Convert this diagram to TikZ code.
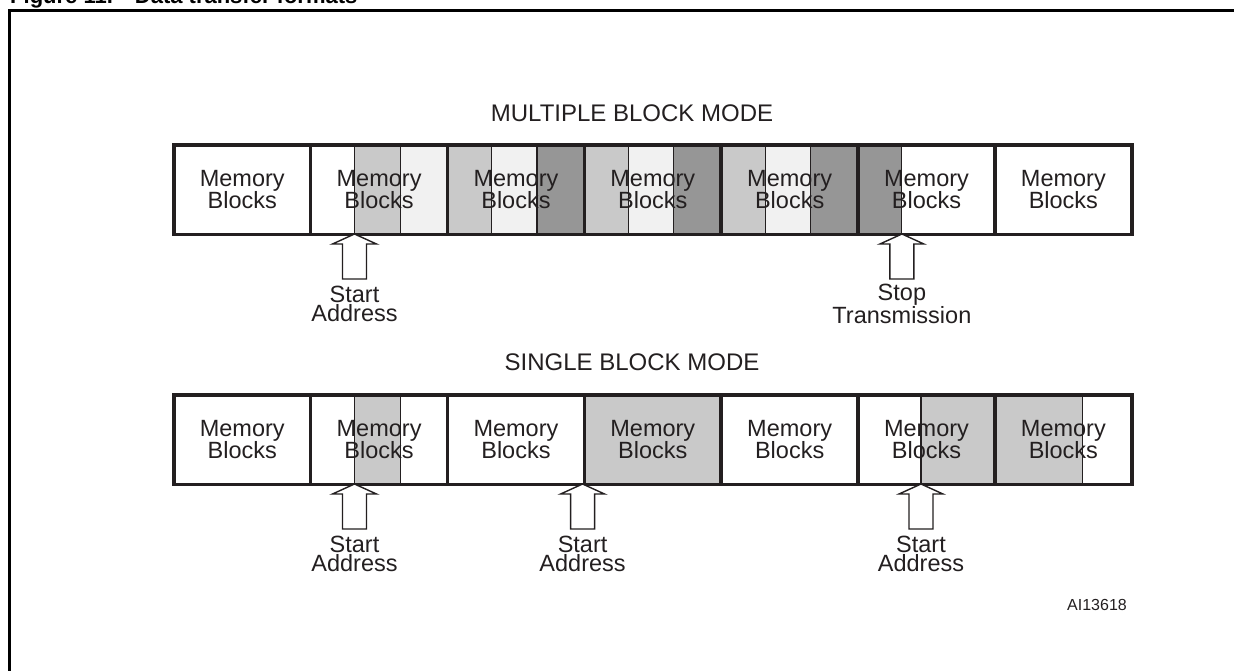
\documentclass[tikz,border=0pt]{standalone}
\usepackage{fontspec}
\setmainfont{Liberation Sans}
\definecolor{ink}{HTML}{231F20}
\definecolor{gmid}{gray}{0.79}
\definecolor{glight}{gray}{0.945}
\definecolor{gdark}{gray}{0.59}
\begin{document}
\begin{tikzpicture}[x=1pt,y=-1pt,
  lbl/.style={font=\fontsize{23.5}{19}\selectfont, align=center, text=ink, inner sep=0pt},
  head/.style={font=\fontsize{24}{26}\selectfont, text=ink, inner sep=0pt},
  cellbox/.style={draw=ink, line width=3.6pt, minimum width=136.86pt, minimum height=89.5pt,
    inner sep=0pt, anchor=north west, font=\fontsize{23.5}{21}\selectfont, align=center, text=ink},
  thin/.style={draw=ink, line width=1.1pt},
  uparrow/.pic={\draw[ink, line width=1.4pt, fill=white, line join=miter]
     (0,0) -- (22,10) -- (12,10) -- (12,45) -- (-12,45) -- (-12,10) -- (-22,10) -- cycle;}
]
\useasboundingbox (0,0) rectangle (1234,670);
\clip (0,0) rectangle (1234,670);

% frame and cut title
\draw[black, line width=3pt] (9.5,700) -- (9.5,10.5) -- (1260,10.5);
\node[font=\bfseries\fontsize{22}{24}\selectfont, anchor=base west, inner sep=0pt] (title) at (10,3) {Figure 11.\quad Data transfer formats};

\def\W{136.857}
\def\T{45.619}
% ---------------- multiple block mode shading ----------------
\fill[gmid]   (172+\W+\T,143) rectangle (172+\W+2*\T,232.5);
\fill[glight] (172+\W+2*\T,143) rectangle (172+2*\W,232.5);
\foreach \i in {2,3,4}{
  \fill[gmid]   (172+\i*\W,143) rectangle (172+\i*\W+\T,232.5);
  \fill[glight] (172+\i*\W+\T,143) rectangle (172+\i*\W+2*\T,232.5);
  \fill[gdark]  (172+\i*\W+2*\T,143) rectangle (172+\i*\W+\W,232.5);
  \draw[thin] (172+\i*\W+\T,143) -- (172+\i*\W+\T,232.5);
  \draw[thin] (172+\i*\W+2*\T,143) -- (172+\i*\W+2*\T,232.5);
}
\fill[gdark] (172+5*\W,143) rectangle (172+5*\W+\T,232.5);
\draw[thin] (172+\W+\T,143) -- (172+\W+\T,232.5);
\draw[thin] (172+\W+2*\T,143) -- (172+\W+2*\T,232.5);
\draw[thin] (172+5*\W+\T,143) -- (172+5*\W+\T,232.5);

% ---------------- single block mode shading ----------------
\fill[gmid] (172+\W+\T,393) rectangle (172+\W+2*\T,482.5);
\draw[thin] (172+\W+\T,393) -- (172+\W+\T,482.5);
\draw[thin] (172+\W+2*\T,393) -- (172+\W+2*\T,482.5);
\fill[gmid] (172+3*\W,393) rectangle (172+4*\W,482.5);
\fill[gmid] (921,393) rectangle (172+6*\W,482.5);
\draw[thin] (921,393) -- (921,482.5);
\fill[gmid] (172+6*\W,393) rectangle (1082.5,482.5);
\draw[thin] (1082.5,393) -- (1082.5,482.5);

% ---------------- cells ----------------
\foreach \i in {0,...,6}{
  \node[cellbox] (m\i) at (172+\i*\W,143) {Memory\\Blocks};
  \node[cellbox] (s\i) at (172+\i*\W,393) {Memory\\Blocks};
}

% ---------------- headings ----------------
\node[head] (mbm) at (632,113) {MULTIPLE BLOCK MODE};
\node[head] (sbm) at (632,362) {SINGLE BLOCK MODE};

% ---------------- arrows ----------------
\coordinate (a1) at (172+\W+\T,234);
\coordinate (a2) at (172+5*\W+\T,234);
\coordinate (b1) at (172+\W+\T,484);
\coordinate (b2) at (172+3*\W,484);
\coordinate (b3) at (921,484);
\foreach \c in {a1,a2,b1,b2,b3}{ \pic at (\c) {uparrow}; }

\node[lbl] (la1) at ([yshift=-70]a1) {Start\\Address};
\node[lbl] (la2) at ([yshift=-70]a2) {Stop\\Transmission};
\node[lbl] (lb1) at ([yshift=-70]b1) {Start\\Address};
\node[lbl] (lb2) at ([yshift=-70]b2) {Start\\Address};
\node[lbl] (lb3) at ([yshift=-70]b3) {Start\\Address};

\node[lbl, font=\fontsize{16}{18}\selectfont] (ref) at (1097,605) {AI13618};
\end{tikzpicture}
\end{document}
